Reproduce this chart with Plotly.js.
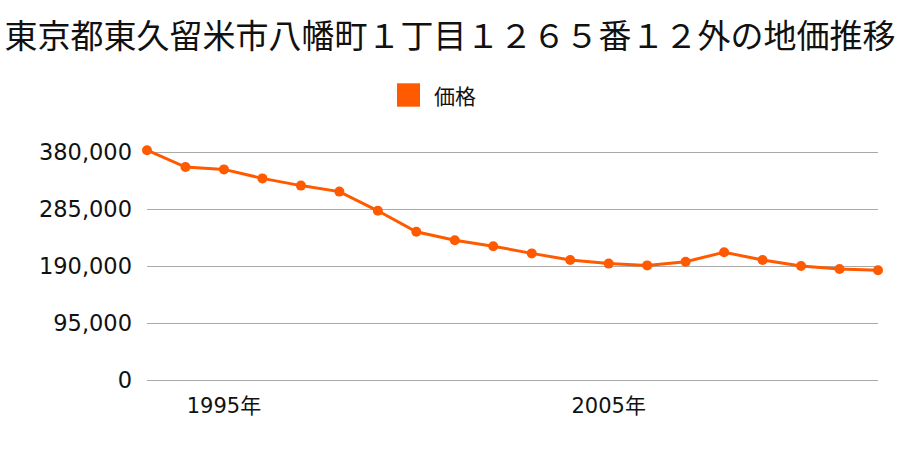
<!DOCTYPE html>
<html>
<head>
<meta charset="utf-8">
<script src="https://cdn.plot.ly/plotly-3.0.1.min.js"></script>
<style>html,body{margin:0;padding:0;background:#fff;}#chart{width:900px;height:450px;}</style>
</head>
<body>
<div id="chart"></div>
<script>
const titleText = "東京都東久留米市八幡町１丁目１２６５番１２外の地価推移";
const seriesName = "価格";
const years = [1993,1994,1995,1996,1997,1998,1999,2000,2001,2002,2003,2004,2005,2006,2007,2008,2009,2010,2011,2012];
const prices = [383000,355000,351000,336000,324000,314000,282000,247000,233000,223000,211000,200000,194000,191000,197000,213000,200000,190000,185000,183000];
const yTickVals = [0,95000,190000,285000,380000];
const xTickVals = [1995,2005];
const xTickText = ["1995年","2005年"];

const FONT = '"Noto Sans CJK JP", "Noto Sans", sans-serif';
const TICKFONT = '"DejaVu Sans", "Noto Sans CJK JP", sans-serif';
const COLOR = "#ff5a00";

const trace = {
  x: years, y: prices, type: "scatter", mode: "lines+markers",
  name: seriesName, showlegend: false, cliponaxis: false,
  line: {color: COLOR, width: 3},
  marker: {color: COLOR, size: 10}
};

// plot area: x 147..878, y 144..385 (value 0 at y=380, 380000 at y=153.3)
const layout = {
  width: 900, height: 450,
  margin: {l: 147, r: 22, t: 144, b: 65},
  paper_bgcolor: "#fff", plot_bgcolor: "#fff",
  font: {family: FONT, color: "#111"},
  title: {text: titleText, font: {family: FONT, size: 33, color: "#111"}, x: 0.5, xanchor: "center", y: 0.918, yanchor: "middle"},
  showlegend: false,
  xaxis: {range: [1993, 2012], tickvals: xTickVals, ticktext: xTickText, showgrid: false, zeroline: false, showline: false, ticks: "", ticklabelstandoff: 6, tickfont: {family: TICKFONT, size: 21, color: "#111"}, fixedrange: true},
  yaxis: {range: [-8333, 393333], tickvals: yTickVals, tickformat: ",", showgrid: true, gridcolor: "#aaaaaa", gridwidth: 1, zeroline: false, showline: false, ticks: "", ticklabelstandoff: 14, tickfont: {family: TICKFONT, size: 22.5, color: "#111"}, fixedrange: true},
  shapes: [{type: "rect", xref: "paper", yref: "paper", x0: (397-147)/731, x1: (420-147)/731, y0: (385-106.7)/241, y1: (385-83.3)/241, fillcolor: COLOR, line: {width: 0}}],
  annotations: [{text: seriesName, xref: "paper", yref: "paper", x: (432-147)/731, y: (385-95)/241, xanchor: "left", yanchor: "middle", showarrow: false, font: {family: FONT, size: 21, color: "#111"}}]
};

Plotly.newPlot("chart", [trace], layout, {displayModeBar: false, staticPlot: true});
</script>
</body>
</html>
